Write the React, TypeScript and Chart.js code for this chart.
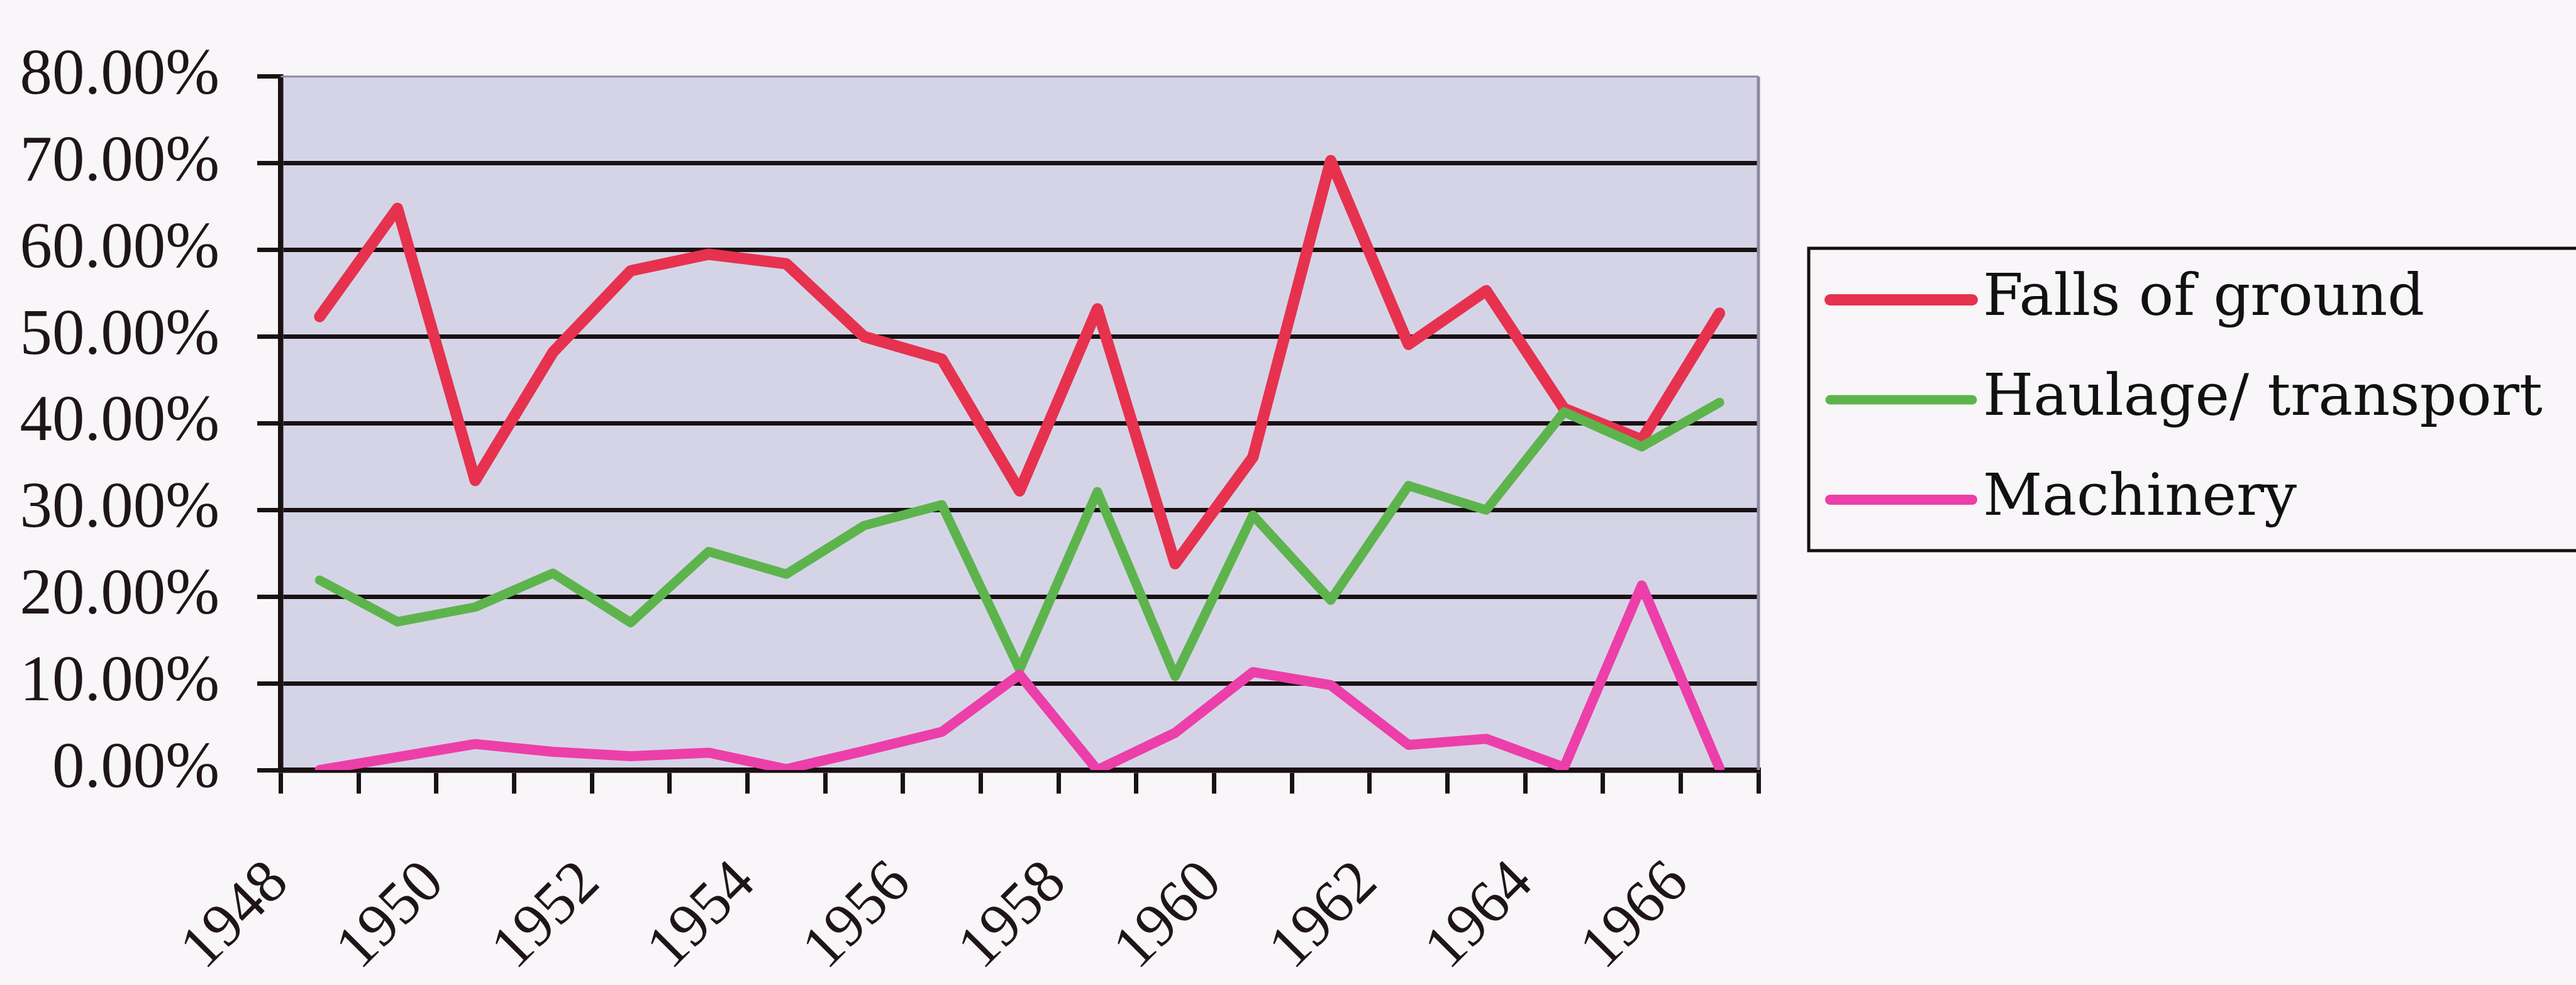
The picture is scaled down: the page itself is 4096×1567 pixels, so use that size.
import { useEffect, useRef } from 'react';
import { Chart, registerables } from 'chart.js';

Chart.register(...registerables);

// Fatal accident causes, share of all fatalities per year (%)
const years = [
  '1948', '1949', '1950', '1951', '1952', '1953', '1954', '1955', '1956', '1957',
  '1958', '1959', '1960', '1961', '1962', '1963', '1964', '1965', '1966',
];
const fallsOfGround = [
  52.3, 64.8, 33.4, 48.2, 57.6, 59.5, 58.4, 50.0, 47.4, 32.2,
  53.2, 23.8, 36.1, 70.3, 49.1, 55.3, 41.7, 38.1, 52.7,
];
const haulageTransport = [
  21.9, 17.1, 18.8, 22.7, 17.0, 25.2, 22.6, 28.2, 30.6, 11.6,
  32.1, 10.8, 29.4, 19.6, 32.8, 30.0, 41.3, 37.3, 42.4,
];
const machinery = [
  0.0, 1.5, 3.0, 2.1, 1.6, 2.0, 0.1, 2.2, 4.4, 11.0,
  0.0, 4.3, 11.3, 9.8, 2.9, 3.6, 0.3, 21.3, 0.2,
];
const seriesNames = ['Falls of ground', 'Haulage/ transport', 'Machinery'];
const yMin = 0;
const yMax = 80;
const yStep = 10;

const WIDTH = 4096;
const HEIGHT = 1567;
const PAGE_BG = '#F8F6F8';
const PLOT_BG = '#D5D4E7';
const INK = '#1A1113';
const LABEL_INK = '#1F1519';
const FRAME = '#8E88A0';

const PLOT_LEFT = 446.5;
const PLOT_RIGHT = 2796;
const PLOT_TOP = 80;
const PLOT_BOTTOM = 1225;

const LEGEND = {
  left: 2876,
  top: 395,
  bottom: 876,
  lineStart: 2910,
  lineEnd: 3136,
  textX: 3153,
  firstY: 477,
  step: 159,
  font: '92px "DejaVu Serif"',
};

const plotBackground = {
  id: 'plotBackground',
  beforeDraw(chart: any) {
    const { ctx, chartArea } = chart;
    ctx.save();
    ctx.fillStyle = PLOT_BG;
    ctx.fillRect(chartArea.left, chartArea.top, chartArea.right - chartArea.left, chartArea.bottom - chartArea.top);
    ctx.restore();
  },
};

const plotFrame = {
  id: 'plotFrame',
  beforeDatasetsDraw(chart: any) {
    const { ctx, chartArea } = chart;
    ctx.save();
    ctx.strokeStyle = FRAME;
    ctx.lineWidth = 3;
    ctx.beginPath();
    ctx.moveTo(chartArea.left, chartArea.top);
    ctx.lineTo(chartArea.right, chartArea.top);
    ctx.stroke();
    ctx.lineWidth = 5;
    ctx.beginPath();
    ctx.moveTo(chartArea.right, chartArea.top);
    ctx.lineTo(chartArea.right, chartArea.bottom);
    ctx.stroke();
    ctx.restore();
  },
};

const boxedLegend = {
  id: 'boxedLegend',
  afterDraw(chart: any) {
    const { ctx } = chart;
    ctx.save();
    ctx.strokeStyle = '#141012';
    ctx.lineWidth = 5;
    ctx.strokeRect(LEGEND.left, LEGEND.top, chart.width - LEGEND.left + 40, LEGEND.bottom - LEGEND.top);
    chart.data.datasets.forEach((ds: any, i: number) => {
      const y = LEGEND.firstY + i * LEGEND.step;
      ctx.strokeStyle = ds.borderColor;
      ctx.lineWidth = ds.borderWidth;
      ctx.lineCap = 'round';
      ctx.beginPath();
      ctx.moveTo(LEGEND.lineStart, y);
      ctx.lineTo(LEGEND.lineEnd, y);
      ctx.stroke();
      ctx.fillStyle = '#111';
      ctx.font = LEGEND.font;
      ctx.textAlign = 'left';
      ctx.textBaseline = 'middle';
      ctx.fillText(ds.label, LEGEND.textX, y);
    });
    ctx.restore();
  },
};

export default function App() {
  const canvasRef = useRef<HTMLCanvasElement | null>(null);

  useEffect(() => {
    const canvas = canvasRef.current;
    if (!canvas) return;

    const lineStyle = (color: string, width: number, order: number) => ({
      borderColor: color,
      backgroundColor: color,
      borderWidth: width,
      pointRadius: 0,
      pointHoverRadius: 0,
      tension: 0,
      fill: false,
      borderJoinStyle: 'round' as const,
      borderCapStyle: 'round' as const,
      order,
    });

    const chart = new Chart(canvas, {
      type: 'line',
      data: {
        labels: years,
        datasets: [
          { label: seriesNames[0], data: fallsOfGround, ...lineStyle('#E6324E', 18, 3) },
          { label: seriesNames[1], data: haulageTransport, ...lineStyle('#5DB44D', 15, 2) },
          { label: seriesNames[2], data: machinery, ...lineStyle('#EC3FA9', 16, 1) },
        ],
      },
      options: {
        responsive: false,
        animation: false,
        devicePixelRatio: 1,
        events: [],
        layout: {
          padding: { left: 0, top: PLOT_TOP, right: WIDTH - PLOT_RIGHT, bottom: 0 },
        },
        plugins: {
          legend: { display: false },
          tooltip: { enabled: false },
          title: { display: false },
        },
        scales: {
          x: {
            type: 'category',
            offset: true,
            grid: {
              display: true,
              offset: true,
              drawOnChartArea: false,
              drawTicks: true,
              tickLength: 37.5,
              color: INK,
              tickColor: INK,
              tickWidth: 7,
              lineWidth: 7,
            },
            border: { display: true, color: INK, width: 8.5 },
            ticks: {
              autoSkip: false,
              minRotation: 45,
              maxRotation: 45,
              labelOffset: -64,
              padding: 86,
              color: LABEL_INK,
              font: { family: '"Liberation Serif", serif', size: 97 },
              callback: (_v: any, index: number) => (index % 2 === 0 ? years[index] : ''),
            },
            afterFit: (scale: any) => {
              scale.height = HEIGHT - PLOT_BOTTOM;
            },
          },
          y: {
            min: yMin,
            max: yMax,
            grid: {
              display: true,
              drawOnChartArea: true,
              drawTicks: true,
              tickLength: 37.5,
              color: (c: any) => (c.tick && c.tick.value === yMax ? 'rgba(0,0,0,0)' : INK),
              tickColor: INK,
              tickWidth: 7,
              lineWidth: 7,
            },
            border: { display: true, color: INK, width: 8.5 },
            ticks: {
              stepSize: yStep,
              padding: 60,
              color: LABEL_INK,
              font: { family: '"Liberation Serif", serif', size: 103 },
              callback: (v: any) => `${Number(v).toFixed(2)}%`,
            },
            afterFit: (scale: any) => {
              scale.width = PLOT_LEFT;
            },
          },
        },
      },
      plugins: [plotBackground, plotFrame, boxedLegend],
    });

    return () => {
      chart.destroy();
    };
  }, []);

  return (
    <div
      style={{
        position: 'fixed',
        left: 0,
        top: 0,
        width: WIDTH,
        height: HEIGHT,
        background: PAGE_BG,
        overflow: 'hidden',
      }}
    >
      <canvas
        ref={canvasRef}
        width={WIDTH}
        height={HEIGHT}
        style={{ display: 'block', width: WIDTH, height: HEIGHT }}
      />
    </div>
  );
}
